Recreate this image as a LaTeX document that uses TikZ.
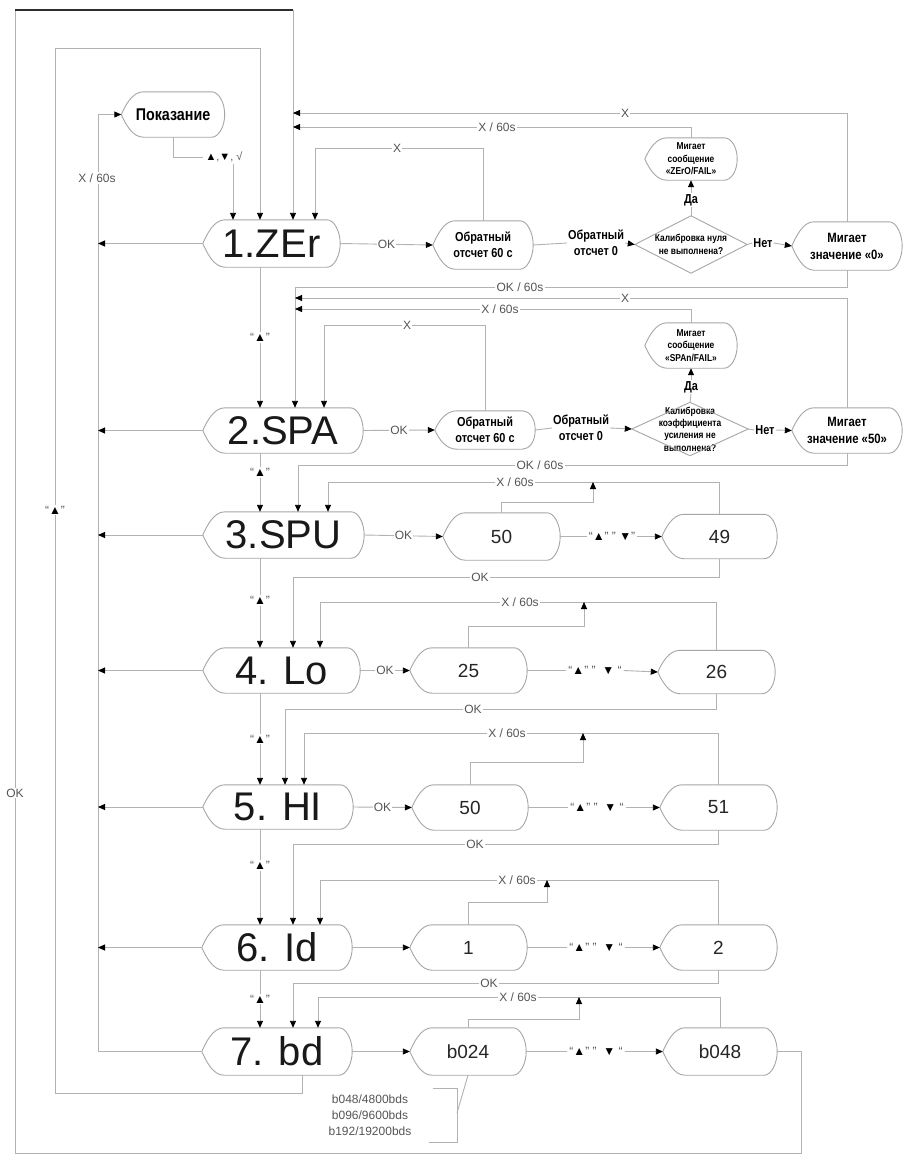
\documentclass[tikz,border=0pt]{standalone}
\usepackage{fontspec}
\setmainfont{Liberation Sans}
\newfontfamily\nbfam[FakeStretch=0.84]{Liberation Sans}
\usetikzlibrary{arrows.meta,calc}
\definecolor{lc}{HTML}{B2B2B2}
\definecolor{nc}{HTML}{A6A6A6}
\definecolor{tc}{HTML}{555555}
\definecolor{barc}{HTML}{2E2E2E}
\newcommand\myfs[2]{\fontsize{#1}{#2}\selectfont}
\newcommand\myup{\textcolor{black}{▲}}
\newcommand\mydn{\textcolor{black}{▼}}
\newcommand\dispshape[1]{%
 \draw[sh] ($(#1.north west)+(22,0)$) -- ($(#1.north east)+(-13,0)$)
  .. controls ($(#1.north east)+(-6,0)$) and ($(#1.east)+(0,-12)$) .. (#1.east)
  .. controls ($(#1.east)+(0,12)$) and ($(#1.south east)+(-6,0)$) .. ($(#1.south east)+(-13,0)$)
  -- ($(#1.south west)+(22,0)$)
  .. controls ($(#1.south west)+(11,0)$) and ($(#1.west)+(4,9)$) .. (#1.west)
  .. controls ($(#1.west)+(4,-9)$) and ($(#1.north west)+(11,0)$) .. cycle;}
\tikzset{
 ln/.style={draw=lc, line width=0.9pt},
 sh/.style={draw=nc, line width=0.9pt},
 arr/.style={-{Triangle[length=7pt,width=6pt,color=black,fill=black]}},
 dn/.style 2 args={draw=none, inner sep=0pt, minimum width=#1, minimum height=#2, align=center},
 lab/.style={fill=white, inner sep=1.2pt, text=tc, font=\myfs{12}{12}},
 qlab/.style={inner sep=2pt, text=tc, font=\myfs{12}{12}},
 menu/.style={font=\myfs{40}{40}, text=black!90},
 val/.style={font=\myfs{19}{19}, text=black!85},
 bA/.style={font=\nbfam\bfseries\myfs{13}{16}, align=center},
 bD/.style={font=\nbfam\bfseries\myfs{10}{12.3}, align=center},
 bG/.style={font=\nbfam\bfseries\myfs{13.5}{17}, align=center},
 bF/.style={font=\nbfam\bfseries\myfs{10}{12.5}, align=center},
 bL/.style={font=\nbfam\bfseries\myfs{13}{13}, inner sep=1pt, align=center},
}
\begin{document}
\begin{tikzpicture}[x=1pt,y=-1pt]
\fill[white] (0,0) rectangle (903,1168);
\useasboundingbox (0,0) rectangle (903,1168);

% ---------- nodes ----------
\node[dn={103pt}{45pt}, font=\nbfam\bfseries\myfs{17}{17}] (pok) at (173,114.5) {Показание};
\node[qlab, font=\myfs{11}{11}] (pl) at (224,157) {\myup,\mydn, √};

\node[dn={137pt}{47pt}, menu] (m1) at (271.5,243.5) {1.ZEr};
\node[dn={160pt}{45pt}, menu] (m2) at (283,430.5) {2.SPA};
\node[dn={161pt}{46pt}, menu] (m3) at (283.5,535) {3.SPU};
\node[dn={157pt}{45pt}, menu] (m4) at (281.5,670.5) {4. Lo};
\node[dn={150pt}{44pt}, menu] (m5) at (278,807) {5. HI};
\node[dn={150pt}{45pt}, menu] (m6) at (277,947.5) {6. Id};
\node[dn={150pt}{47pt}, menu] (m7) at (277,1051.5) {7. bd};

% row 1
\node[dn={100pt}{48pt}, bA] (c1) at (483,245) {Обратный\\отсчет 60 с};
\node[bA, inner sep=1pt] (o1) at (596,243) {Обратный\\отсчет 0};
\node[dn={112pt}{57pt}, bD] (d1) at (691,244.5) {Калибровка нуля\\не выполнена?};
\node[bL] (n1) at (763,243) {Нет};
\node[dn={110pt}{48pt}, bG] (g1) at (847,246) {Мигает\\значение «0»};
\node[bL] (y1) at (691,200) {Да};
\node[dn={92pt}{42pt}, bF] (f1) at (691,159) {Мигает\\сообщение\\«ZErO/FAIL»};

% row 2
\node[dn={100pt}{38pt}, bA] (c2) at (485,430) {Обратный\\отсчет 60 с};
\node[bA, inner sep=1pt] (o2) at (581,428) {Обратный\\отсчет 0};
\node[dn={116pt}{53pt}, bD] (d2) at (690,429) {Калибровка\\коэффициента\\усиления не\\выполнена?};
\node[bL] (n2) at (765,430) {Нет};
\node[dn={110pt}{45pt}, bG] (g2) at (847,430.5) {Мигает\\значение «50»};
\node[bL] (y2) at (691,387) {Да};
\node[dn={92pt}{45pt}, bF] (f2) at (691,345.5) {Мигает\\сообщение\\«SPAn/FAIL»};

% rows 3-7 values
\node[dn={117pt}{47pt}, val] (v3a) at (501.5,536.5) {50};
\node[dn={115pt}{44pt}, val] (v3b) at (719.5,536.5) {49};
\node[dn={117pt}{45pt}, val] (v4a) at (468.5,670.5) {25};
\node[dn={117pt}{43pt}, val] (v4b) at (716.5,672) {26};
\node[dn={116pt}{45pt}, val] (v5a) at (470,807.5) {50};
\node[dn={117pt}{45pt}, val] (v5b) at (718.5,807.5) {51};
\node[dn={117pt}{45pt}, val] (v6a) at (468.5,947.5) {1};
\node[dn={117pt}{45pt}, val] (v6b) at (718.5,947.5) {2};
\node[dn={116pt}{47pt}, val] (v7a) at (468,1051.5) {b024};
\node[dn={114pt}{47pt}, val] (v7b) at (720,1051.5) {b048};

\node[qlab] (q3) at (612,536.5) {“\myup” ” \mydn”};
\node[qlab] (q4) at (595,670.5) {“\myup” ”\ \ \mydn\ “};
\node[qlab] (q5) at (597,807.5) {“\myup” ”\ \ \mydn\ “};
\node[qlab] (q6) at (596,947.5) {“\myup” ”\ \ \mydn\ “};
\node[qlab] (q7) at (596,1051.5) {“\myup” ”\ \ \mydn\ “};

% ---------- shapes ----------
\foreach \n in {pok,m1,m2,m3,m4,m5,m6,m7,c1,c2,g1,g2,f1,f2,v3a,v3b,v4a,v4b,v5a,v5b,v6a,v6b,v7a,v7b} {\dispshape{\n}}
\foreach \n in {d1,d2} {\draw[sh] (\n.north) -- (\n.east) -- (\n.south) -- (\n.west) -- cycle;}

% ---------- big loops ----------
\draw[ln,arr] (v7b.east) -- (801,0 |- v7b.east) -- (801,1153) -- (15,1153) -- (15,10) -- (293,10) -- (293,0 |- m1.north);
\draw[barc, line width=2.2pt] (15,10) -- (293,10);
\draw[ln,arr] (302,0 |- m7.south) -- (302,1093) -- (55,1093) -- (55,48) -- (260,48) -- (260,0 |- m1.north);
\draw[ln,arr] (m7.west) -- (98,0 |- m7.west) -- (98,0 |- pok.west) -- (pok.west);
\foreach \m in {m1,m2,m3,m4,m5,m6} {\draw[ln,arr] (\m.west) -- (98,0 |- \m.west);}

% Показание -> 1.ZEr
\draw[ln] (pok.south) |- (pl.west);
\draw[ln,arr] (233,0 |- pl.south) -- (233,0 |- m1.north);

% menu chain
\draw[ln,arr] (260,0 |- m1.south) -- node[lab] (a1) {“\myup”} (260,0 |- m2.north);
\draw[ln,arr] (260,0 |- m2.south) -- node[lab,pos=0.33] (a2) {“\myup”} (260,0 |- m3.north);
\draw[ln,arr] (260,0 |- m3.south) -- node[lab,pos=0.47] (a3) {“\myup”} (260,0 |- m4.north);
\draw[ln,arr] (260,0 |- m4.south) -- node[lab,pos=0.5] (a4) {“\myup”} (260,0 |- m5.north);
\draw[ln,arr] (260,0 |- m5.south) -- node[lab,pos=0.38] (a5) {“\myup”} (260,0 |- m6.north);
\draw[ln,arr] (260,0 |- m6.south) -- node[lab,pos=0.5] (a6) {“\myup”} (260,0 |- m7.north);

% row 1 connectors
\draw[ln,arr] (m1.east) -- node[lab] (k1) {OK} (c1.west);
\draw[ln] (c1.east) -- (o1.west);
\draw[ln,arr] (o1.east) -- (d1.west);
\draw[ln] (d1.east) -- (n1.west);
\draw[ln,arr] (n1.east) -- (g1.west);
\draw[ln] (d1.north) -- (y1.south);
\draw[ln,arr] (y1.north) -- (f1.south);
\draw[ln,arr] (g1.north) |- (293,113);
\draw[ln,arr] (f1.north) |- (293,127);
\draw[ln,arr] (c1.north) |- (315,148) -- (315,0 |- m1.north);
\draw[ln,arr] (g1.south) |- (295,287) -- (295,0 |- m2.north);

% row 2 connectors
\draw[ln,arr] (m2.east) -- node[lab] (k2) {OK} (c2.west);
\draw[ln] (c2.east) -- (o2.west);
\draw[ln,arr] (o2.east) -- (d2.west);
\draw[ln] (d2.east) -- (n2.west);
\draw[ln,arr] (n2.east) -- (g2.west);
\draw[ln] (d2.north) -- (y2.south);
\draw[ln,arr] (y2.north) -- (f2.south);
\draw[ln,arr] (g2.north) |- (295,298);
\draw[ln,arr] (f2.north) |- (295,309);
\draw[ln,arr] (c2.north) |- (324,325) -- (324,0 |- m2.north);
\draw[ln,arr] (g2.south) |- (298,465) -- (298,0 |- m3.north);

% row 3
\draw[ln,arr] (m3.east) -- node[lab] (k3) {OK} (v3a.west);
\draw[ln] (v3a.east) -- (q3.west);
\draw[ln,arr] (q3.east) -- (v3b.west);
\draw[ln,arr] (v3b.north) |- (328,482) -- (328,0 |- m3.north);
\coordinate (j3) at (593,482);
\draw[ln,arr] (v3a.north) -- ++(0,-10) -| (j3);
\draw[ln,arr] (v3b.south) |- (293,577) -- (293,0 |- m4.north);

% row 4
\draw[ln,arr] (m4.east) -- node[lab] (k4) {OK} (v4a.west);
\draw[ln] (v4a.east) -- (q4.west);
\draw[ln,arr] (q4.east) -- (v4b.west);
\draw[ln,arr] (v4b.north) |- (320,602) -- (320,0 |- m4.north);
\coordinate (j4) at (584,602);
\draw[ln,arr] (v4a.north) -- ++(0,-21) -| (j4);
\draw[ln,arr] (v4b.south) |- (285,709) -- (285,0 |- m5.north);

% row 5
\draw[ln,arr] (m5.east) -- node[lab] (k5) {OK} (v5a.west);
\draw[ln] (v5a.east) -- (q5.west);
\draw[ln,arr] (q5.east) -- (v5b.west);
\draw[ln,arr] (v5b.north) |- (304,733) -- (304,0 |- m5.north);
\coordinate (j5) at (583,733);
\draw[ln,arr] (v5a.north) -- ++(0,-22) -| (j5);
\draw[ln,arr] (v5b.south) |- (293,844) -- (293,0 |- m6.north);

% row 6
\draw[ln,arr] (m6.east) -- (v6a.west);
\draw[ln] (v6a.east) -- (q6.west);
\draw[ln,arr] (q6.east) -- (v6b.west);
\draw[ln,arr] (v6b.north) |- (320,880) -- (320,0 |- m6.north);
\coordinate (j6) at (547,880);
\draw[ln,arr] (v6a.north) -- ++(0,-22) -| (j6);
\draw[ln,arr] (v6b.south) |- (293,983) -- (293,0 |- m7.north);

% row 7
\draw[ln,arr] (m7.east) -- (v7a.west);
\draw[ln] (v7a.east) -- (q7.west);
\draw[ln,arr] (q7.east) -- (v7b.west);
\draw[ln,arr] (v7b.north) |- (318,997) -- (318,0 |- m7.north);
\coordinate (j7) at (579,997);
\draw[ln,arr] (v7a.north) -- ++(0,-8) -| (j7);

% bracket
\coordinate (br) at (457,1113);
\draw[ln] (v7a.south) -- (br);
\draw[ln] (433,1088) -- (457,1088) -- (457,1142) -- (429,1142);
\node[font=\myfs{12}{16}, text=tc, align=center] (btx) at (370,1115) {b048/4800bds\\b096/9600bds\\b192/19200bds};

% ---------- labels on lines ----------
\node[lab] (lx) at (97,178) {X / 60s};
\node[lab] (lok) at (15,793) {OK};
\node[lab] (lup) at (55,510) {“\myup”};
\node[lab] (r1x) at (625,113) {X};
\node[lab] (r1x60) at (497,127) {X / 60s};
\node[lab] (r1xb) at (397,148) {X};
\node[lab] (r1ok) at (520,287) {OK / 60s};
\node[lab] (r2x) at (625,298) {X};
\node[lab] (r2x60) at (500,309) {X / 60s};
\node[lab] (r2xb) at (407,325) {X};
\node[lab] (r2ok) at (540,465) {OK / 60s};
\node[lab] (r3x60) at (515,482) {X / 60s};
\node[lab] (r3ok) at (480,577) {OK};
\node[lab] (r4x60) at (520,602) {X / 60s};
\node[lab] (r4ok) at (473,709) {OK};
\node[lab] (r5x60) at (507,733) {X / 60s};
\node[lab] (r5ok) at (475,844) {OK};
\node[lab] (r6x60) at (517,880) {X / 60s};
\node[lab] (r6ok) at (489,983) {OK};
\node[lab] (r7x60) at (518,997) {X / 60s};
\end{tikzpicture}
\end{document}
